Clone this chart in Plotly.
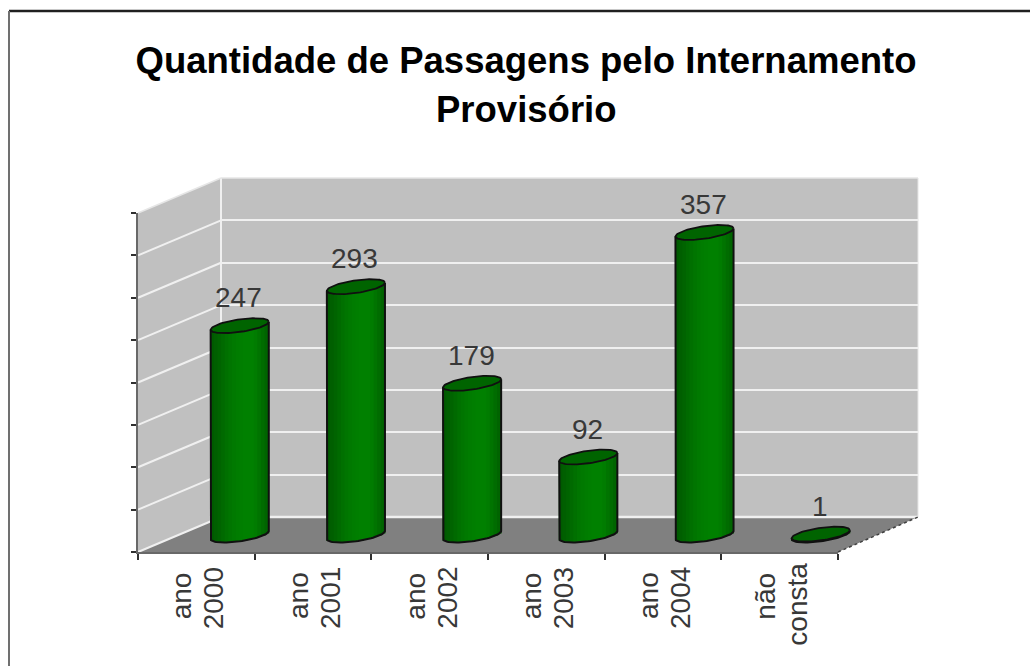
import math
import plotly.graph_objects as go

# ---- data ----
categories_line1 = ["ano", "ano", "ano", "ano", "ano", "não"]
categories_line2 = ["2000", "2001", "2002", "2003", "2004", "consta"]
values = [247, 293, 179, 92, 357, 1]
axis_max = 400
axis_step = 50
title_line1 = "Quantidade de Passagens pelo Internamento"
title_line2 = "Provisório"

# ---- page geometry (px) ----
W, H = 1030, 666
def px(x): return x / W
def py(y): return 1 - y / H

BACK_L, BACK_R, BACK_T, BACK_B = 221, 918, 178, 517
FRONT_L, FRONT_R, FRONT_T, FRONT_B = 138, 838, 213, 552
BAR_X0, BAR_XSTEP = 239.7, 116.2
BAR_Y0, PX_PER_UNIT = 535.0, (FRONT_B - FRONT_T) / axis_max

WALL = "#c0c0c0"
FLOOR = "#808080"
GRID = "#f0f0f0"
TEXT = "#383838"
FONT = "Liberation Sans"

y2_low = -(FRONT_B - BAR_Y0) / PX_PER_UNIT
y2_high = axis_max
y2_top_px = BAR_Y0 - axis_max * PX_PER_UNIT
x2_left = BAR_X0 - 0.5 * BAR_XSTEP
x2_right = BAR_X0 + 5.5 * BAR_XSTEP

# cylinder shape in axis units
A = 0.25
B = 6.3 / PX_PER_UNIT
S = 4.0 / PX_PER_UNIT

fig = go.Figure()

# ---- cylinder body: shaded vertical strips ----
shades = ["#005a00", "#005f00", "#006400", "#006a00", "#007000", "#007500", "#007900",
          "#007c00", "#007e00", "#008000", "#008000", "#008000", "#007c00", "#007400",
          "#006c00", "#006400"]
n = len(shades)
for k, col in enumerate(shades):
    u = -1 + (2 * k + 1) / n
    low = -B * math.sqrt(max(0, 1 - u * u)) + S * u
    top = S * u
    fig.add_trace(go.Bar(
        x=[i + u * A for i in range(len(values))],
        y=[v + top - low for v in values],
        base=[low] * len(values),
        width=2 * A / n * 1.25,
        marker=dict(color=col, opacity=1, line=dict(width=0)),
        xaxis="x2", yaxis="y2", showlegend=False, hoverinfo="skip",
    ))

# ---- silhouette and cap ----
ts = [math.pi * j / 40 for j in range(81)]
sx, sy, cx, cy = [], [], [], []
for i, v in enumerate(values):
    # left edge down, lower half of the base, right edge up
    sx.append(i - A)
    sy.append(v - S)
    for t in ts[:41]:
        uu = -math.cos(t)
        sx.append(i + A * uu)
        sy.append(S * uu - B * math.sin(t))
    sx += [i + A, None]
    sy += [v + S, None]
    for t in ts:
        cx.append(i + A * math.cos(t))
        cy.append(v + S * math.cos(t) + B * math.sin(t))
    cx.append(None)
    cy.append(None)

fig.add_trace(go.Scatter(x=sx, y=sy, mode="lines", line=dict(color="#101010", width=2),
                         xaxis="x2", yaxis="y2", showlegend=False, hoverinfo="skip"))
fig.add_trace(go.Scatter(x=cx, y=cy, mode="lines", fill="toself", fillcolor="#006400",
                         line=dict(color="#101010", width=1.8),
                         xaxis="x2", yaxis="y2", showlegend=False, hoverinfo="skip"))

# ---- wall / floor / frame shapes ----
def poly(points, fill):
    path = "M " + " L ".join(f"{px(a):.5f},{py(b):.5f}" for a, b in points) + " Z"
    return dict(type="path", xref="paper", yref="paper", path=path, fillcolor=fill,
                line=dict(width=0), layer="below")

def seg(a, b, c, d, color, width, dash="solid", layer="below"):
    return dict(type="line", xref="paper", yref="paper", x0=px(a), y0=py(b), x1=px(c), y1=py(d),
                line=dict(color=color, width=width, dash=dash), layer=layer)

shapes = [
    poly([(BACK_L, BACK_T), (BACK_R, BACK_T), (BACK_R, BACK_B), (BACK_L, BACK_B)], WALL),
    poly([(FRONT_L, FRONT_T), (BACK_L, BACK_T), (BACK_L, BACK_B), (FRONT_L, FRONT_B)], WALL),
    poly([(FRONT_L, FRONT_B), (BACK_L, BACK_B), (BACK_R, BACK_B), (FRONT_R, FRONT_B)], FLOOR),
    seg(BACK_L, BACK_T, BACK_L, BACK_B, GRID, 2),
    seg(BACK_L, BACK_T, BACK_R, BACK_T, "#e6e6e6", 1.5),
    seg(BACK_R, BACK_T, BACK_R, BACK_B, "#e6e6e6", 1),
    seg(FRONT_L, FRONT_T, BACK_L, BACK_T, "#e6e6e6", 1.5),
    seg(BACK_L, BACK_B, BACK_R, BACK_B, GRID, 2.5),
    seg(FRONT_R, FRONT_B, BACK_R, BACK_B, "#404040", 1.5, "dot"),
    seg(9, 11, W, 11, "#202020", 2.5),
    seg(9, 11, 9, H, "#707070", 2),
]
for v in range(axis_step, axis_max, axis_step):
    d = v * PX_PER_UNIT
    shapes.append(seg(FRONT_L, FRONT_B - d, BACK_L, BACK_B - d, GRID, 2))
shapes.append(seg(FRONT_L, FRONT_B, BACK_L, BACK_B, GRID, 2))

# ---- text ----
annotations = [
    dict(text=f"<b>{title_line2}</b>", xref="paper", yref="paper", x=px(526), y=py(110), showarrow=False,
         xanchor="center", yanchor="middle", font=dict(family=FONT, size=36.5, color="#000000")),
]
for i, v in enumerate(values):
    annotations.append(dict(text=str(v), xref="x2", yref="y2", x=i, y=v, yshift=28, xshift=-1,
                            showarrow=False, xanchor="center", yanchor="middle",
                            font=dict(family=FONT, size=28, color=TEXT)))
slot = (FRONT_R - FRONT_L) / len(values)
for i, (a, b) in enumerate(zip(categories_line1, categories_line2)):
    c = FRONT_L + slot * (i + 0.5)
    annotations.append(dict(text=a, xref="paper", yref="paper", x=px(c - 15), y=py(596),
                            textangle=-90, showarrow=False, xanchor="center", yanchor="middle",
                            font=dict(family=FONT, size=28, color=TEXT)))
    annotations.append(dict(text=b, xref="paper", yref="paper", x=px(c + 17), y=py(598 if b != "consta" else 604),
                            textangle=-90, showarrow=False, xanchor="center", yanchor="middle",
                            font=dict(family=FONT, size=28, color=TEXT)))

fig.update_layout(
    width=W, height=H, margin=dict(l=0, r=0, t=0, b=0, autoexpand=False),
    paper_bgcolor="white", plot_bgcolor="rgba(0,0,0,0)",
    barmode="overlay", showlegend=False, shapes=shapes, annotations=annotations,
    title=dict(text=f"<b>{title_line1}</b>", x=px(526), xanchor="center", xref="paper",
               y=py(60), yanchor="middle", yref="container",
               font=dict(family=FONT, size=36.5, color="#000000")),
    xaxis=dict(domain=[px(BACK_L), px(BACK_R)], range=[0, 1], visible=False, fixedrange=True),
    yaxis=dict(domain=[py(BACK_B), py(BACK_T)], range=[0, axis_max], dtick=axis_step,
               showgrid=True, gridcolor=GRID, gridwidth=2, zeroline=False, showline=False,
               showticklabels=False, ticks="", fixedrange=True),
    xaxis2=dict(domain=[px(x2_left), px(x2_right)], range=[-0.5, 5.5], anchor="y2", visible=False, fixedrange=True),
    yaxis2=dict(domain=[py(FRONT_B), py(y2_top_px)], range=[y2_low, y2_high], anchor="x2",
                visible=False, fixedrange=True),
    xaxis3=dict(domain=[px(FRONT_L), px(FRONT_R)], range=[0, len(values)], dtick=1, anchor="y3",
                showgrid=False, zeroline=False, showline=True, linecolor="#686868", linewidth=2,
                ticks="outside", ticklen=6, tickwidth=2, tickcolor="#303030",
                showticklabels=False, fixedrange=True),
    yaxis3=dict(domain=[py(FRONT_B), py(FRONT_T)], range=[0, axis_max], dtick=axis_step, anchor="x3",
                showgrid=False, zeroline=False, showline=True, linecolor="#686868", linewidth=2,
                ticks="outside", ticklen=5, tickwidth=2, tickcolor="#303030",
                showticklabels=False, fixedrange=True),
)
fig.add_trace(go.Scatter(x=[0], y=[0], xaxis="x3", yaxis="y3", mode="markers", marker=dict(opacity=0),
                         showlegend=False, hoverinfo="skip"))
fig.add_trace(go.Scatter(x=[0], y=[0], xaxis="x", yaxis="y", mode="markers", marker=dict(opacity=0),
                         showlegend=False, hoverinfo="skip"))

fig.write_html("out.html", config=dict(displayModeBar=False),
               post_script="document.body.style.margin='0';document.body.style.overflow='hidden';")
